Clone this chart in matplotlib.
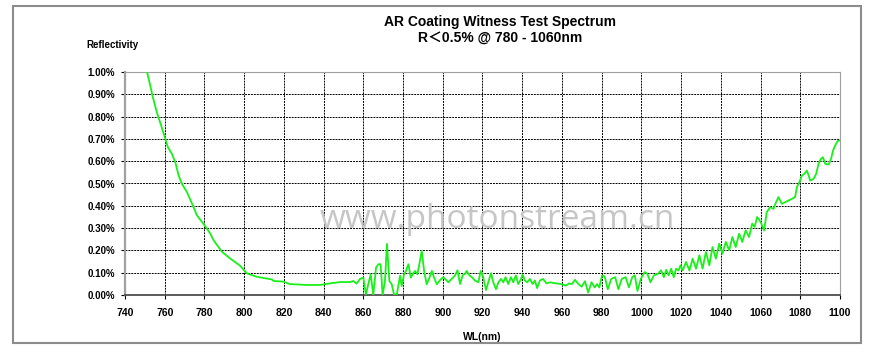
import matplotlib.pyplot as plt
from matplotlib.patches import Rectangle
from matplotlib.ticker import FuncFormatter, MultipleLocator

# -------------------------
# DATA
# -------------------------
wavelength = [
    751.1, 752.7, 753.8, 756.0, 758.2, 760.3, 761.6, 763.6, 765.3, 767.0,
    768.7, 771.2, 773.8, 776.3, 780.2, 783.0, 784.7, 789.0, 793.2, 798.0,
    801.3, 806.3, 810.5, 813.9, 814.7, 819.7, 823.1, 831.5, 838.2, 843.2,
    848.3, 853.3, 855.0, 856.6, 858.3, 860.0, 861.3, 862.5, 863.7, 865.0,
    866.4, 867.6, 868.7, 869.7, 870.9, 871.9, 873.1, 874.3, 875.5, 876.8,
    878.5, 879.3, 880.5, 881.5, 882.7, 883.9, 884.9, 886.0, 887.2, 888.2,
    889.4, 890.6, 891.9, 893.3, 894.5, 895.6, 897.0, 898.7, 900.3, 902.8,
    904.5, 906.2, 907.4, 908.7, 910.0, 911.2, 912.0, 913.4, 914.6, 916.2,
    917.9, 919.1, 920.1, 921.8, 922.9, 924.3, 925.4, 926.8, 928.0, 929.3,
    930.5, 931.6, 933.0, 934.3, 935.5, 936.8, 938.0, 939.2, 940.2, 941.3,
    942.5, 943.9, 945.2, 946.4, 947.5, 948.9, 950.5, 952.2, 953.9, 955.6,
    957.3, 959.5, 962.0, 963.6, 965.0, 966.6, 968.3, 969.9, 971.6, 973.2,
    974.9, 976.5, 977.7, 978.8, 980.2, 981.5, 983.1, 984.8, 986.8, 988.4,
    990.1, 992.1, 993.7, 995.4, 996.7, 998.0, 999.7, 1001.7, 1003.0, 1004.6,
    1006.3, 1008.3, 1009.9, 1011.3, 1012.5, 1013.7, 1015.0, 1016.3, 1017.5, 1018.7,
    1019.7, 1020.8, 1022.5, 1024.2, 1025.8, 1027.5, 1029.2, 1030.8, 1032.5, 1034.2,
    1035.8, 1037.5, 1039.2, 1040.8, 1042.5, 1044.2, 1045.8, 1047.5, 1049.2, 1050.8,
    1052.5, 1054.2, 1055.8, 1057.0, 1058.3, 1060.0, 1061.8, 1063.1, 1064.8, 1066.5,
    1067.8, 1069.0, 1070.7, 1072.4, 1074.1, 1075.8, 1077.4, 1078.3, 1079.6, 1080.8,
    1082.0, 1083.3, 1084.2, 1085.0, 1086.7, 1088.0, 1089.2, 1090.4, 1091.4, 1092.6,
    1094.3, 1095.5, 1096.5, 1097.6, 1098.8, 1099.8,
]

reflectivity = [  # percent
    1.00, 0.94, 0.895, 0.82, 0.76, 0.70, 0.663, 0.633, 0.596, 0.536,
    0.498, 0.461, 0.409, 0.356, 0.311, 0.274, 0.244, 0.192, 0.162, 0.131,
    0.097, 0.082, 0.075, 0.070, 0.063, 0.060, 0.049, 0.045, 0.045, 0.052,
    0.058, 0.058, 0.063, 0.051, 0.072, 0.078, 0.003, 0.048, 0.093, 0.0,
    0.123, 0.138, 0.138, 0.0, 0.063, 0.229, 0.063, 0.048, 0.0, 0.0,
    0.086, 0.040, 0.093, 0.108, 0.138, 0.078, 0.093, 0.108, 0.093, 0.138,
    0.199, 0.108, 0.048, 0.078, 0.108, 0.078, 0.048, 0.068, 0.080, 0.057,
    0.072, 0.088, 0.111, 0.049, 0.088, 0.095, 0.108, 0.088, 0.080, 0.065,
    0.057, 0.108, 0.088, 0.022, 0.057, 0.098, 0.057, 0.026, 0.057, 0.072,
    0.057, 0.080, 0.049, 0.080, 0.057, 0.088, 0.049, 0.068, 0.092, 0.065,
    0.057, 0.072, 0.049, 0.065, 0.031, 0.065, 0.072, 0.052, 0.057, 0.054,
    0.052, 0.049, 0.042, 0.052, 0.049, 0.068, 0.049, 0.037, 0.062, 0.011,
    0.057, 0.034, 0.049, 0.034, 0.088, 0.083, 0.026, 0.072, 0.080, 0.026,
    0.072, 0.080, 0.034, 0.080, 0.088, 0.018, 0.072, 0.103, 0.095, 0.057,
    0.088, 0.095, 0.111, 0.080, 0.113, 0.088, 0.118, 0.080, 0.118, 0.110,
    0.133, 0.110, 0.148, 0.110, 0.163, 0.118, 0.178, 0.118, 0.193, 0.133,
    0.215, 0.163, 0.230, 0.185, 0.238, 0.200, 0.260, 0.215, 0.275, 0.238,
    0.290, 0.260, 0.320, 0.305, 0.350, 0.328, 0.289, 0.371, 0.394, 0.386,
    0.416, 0.439, 0.409, 0.416, 0.424, 0.431, 0.439, 0.484, 0.506, 0.536,
    0.543, 0.558, 0.536, 0.513, 0.521, 0.543, 0.588, 0.611, 0.618, 0.588,
    0.585, 0.611, 0.648, 0.671, 0.690, 0.693,
]

x_ticks = list(range(740, 1101, 20))

# -------------------------
# PLOT
# -------------------------
plt.rcParams["font.family"] = ["Liberation Sans", "DejaVu Sans"]

fig = plt.figure(figsize=(8.75, 3.54), dpi=100)
ax = fig.add_axes([125 / 875, 1 - 295 / 354, 715 / 875, 223 / 354])

# outer frame of the chart
fig.patches.append(Rectangle((13 / 875, 1 - 343 / 354), 848 / 875, 337 / 354,
                             transform=fig.transFigure, fill=False,
                             edgecolor="#8c8c8c", linewidth=1.5))

ax.plot(wavelength, reflectivity, color="#19f019", linewidth=1.3,
        solid_joinstyle="round", zorder=3)

ax.set_xlim(740, 1100)
ax.set_ylim(0, 1.0)
ax.set_xticks(x_ticks)
ax.yaxis.set_major_locator(MultipleLocator(0.1))
ax.yaxis.set_major_formatter(FuncFormatter(lambda v, p: f"{v:.2f}%"))

ax.grid(True, color="black", linestyle=(0, (2, 1)), linewidth=0.7, zorder=1)
ax.set_axisbelow(True)

for side in ["top", "right", "left"]:
    ax.spines[side].set_color("#a0a0a0")
ax.spines["left"].set_linewidth(1.6)
ax.spines["bottom"].set_color("#404040")
ax.spines["bottom"].set_linewidth(1.2)

ax.tick_params(axis="both", length=3, width=0.8, labelsize=7)
ax.tick_params(axis="x", labelsize=7.5, pad=6)
ax.tick_params(axis="y", pad=4)
for lab in ax.get_xticklabels() + ax.get_yticklabels():
    lab.set_fontweight("bold")

# watermark
ax.text(0.52, 0.34, "www.photonstream.cn", transform=ax.transAxes,
        fontsize=24, color="#c6c6c6", family="Open Sans",
        ha="center", va="center", zorder=2)

fig.text(500 / 875, 1 - 22 / 354, "AR Coating Witness Test Spectrum",
         ha="center", va="center", fontsize=10, fontweight="bold")
fig.text(500 / 875, 1 - 38 / 354, "R\uff1c0.5% @ 780 - 1060nm",
         ha="center", va="center", fontsize=10, fontweight="bold",
         family=["Liberation Sans", "Noto Sans CJK SC"])
fig.text(112 / 875, 1 - 45 / 354, "Reflectivity", ha="center", va="center",
         fontsize=7, fontweight="bold")
fig.text(482 / 875, 1 - 337 / 354, "WL(nm)", ha="center", va="center",
         fontsize=7.5, fontweight="bold")

fig.savefig("out.png", dpi=100)
